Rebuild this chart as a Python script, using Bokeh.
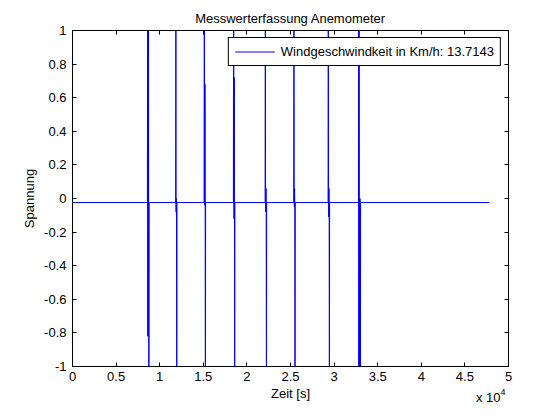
from bokeh.plotting import figure
from bokeh.models import Range1d, LinearAxis, FixedTicker, Label
from bokeh.embed import file_html
from bokeh.resources import INLINE

# ---------------- data ----------------
title_text = "Messwerterfassung Anemometer"
x_label = "Zeit [s]"
y_label = "Spannung"
legend_text = "Windgeschwindkeit in Km/h: 13.7143"

baseline_level = -0.024          # resting voltage
signal_start = 0
signal_end = 47800               # last sample time [s]
sample_dt = 25                   # sample spacing inside a pulse [s]

spike_times = [8590, 11830, 15090, 18450, 22090, 25370, 29310, 32790]
spike_1 = [1.5, -0.82, 1.5, -0.82, 1.5, -0.82, -1.5]
spike_2 = [1.5, -0.08, 0.0, -0.08, -1.5]
spike_3 = [1.5, 0.68, -0.04, 0.68, -0.04, -1.5]
spike_4 = [1.5, 0.72, -0.12, 0.72, -0.12, -1.5]
spike_5 = [1.5, 0.06, -0.08, 0.06, -0.08, -1.5]
spike_6 = [1.5, 0.06, -0.05, 0.06, -0.05, -1.5]
spike_7 = [1.5, 0.06, -0.11, 0.06, -0.11, -1.5]
spike_8 = [1.5, -1.5, 1.5, -1.5, 0.0, -0.13, 0.0, -0.13, -1.5]
spike_values = [spike_1, spike_2, spike_3, spike_4, spike_5, spike_6, spike_7, spike_8]

x_ticks = [0, 5000, 10000, 15000, 20000, 25000, 30000, 35000, 40000, 45000, 50000]
x_tick_labels = ["0", "0.5", "1", "1.5", "2", "2.5", "3", "3.5", "4", "4.5", "5"]
y_ticks = [-1, -0.8, -0.6, -0.4, -0.2, 0, 0.2, 0.4, 0.6, 0.8, 1]
y_tick_labels = ["-1", "-0.8", "-0.6", "-0.4", "-0.2", "0", "0.2", "0.4", "0.6", "0.8", "1"]
x_multiplier = "x 10"
x_exponent = "4"

# ------------- build signal -------------
xs = [signal_start]
ys = [baseline_level]
for t, vals in zip(spike_times, spike_values):
    xs.append(t)
    ys.append(baseline_level)
    for i, v in enumerate(vals):
        xs.append(t + (i + 1) * sample_dt)
        ys.append(v)
    xs.append(t + (len(vals) + 1) * sample_dt)
    ys.append(baseline_level)
xs.append(signal_end)
ys.append(baseline_level)

FONT = "Liberation Sans"
FS = "13px"

p = figure(width=544, height=404, output_backend="svg", toolbar_location=None, tools="",
           x_range=Range1d(0, 50000), y_range=Range1d(-1, 1),
           min_border_left=72, min_border_right=36, min_border_top=30, min_border_bottom=38,
           title=title_text, background_fill_color="white", border_fill_color="white")

p.title.align = "center"
p.title.text_font = FONT
p.title.text_font_size = FS
p.title.text_font_style = "normal"
p.title.text_color = "black"
p.title.standoff = 9

p.xgrid.visible = False
p.ygrid.visible = False
p.outline_line_color = "black"
p.outline_line_width = 1

line = p.line(xs, ys, line_color="#0000ff", line_width=1, legend_label=legend_text)

def style_axis(ax, ticks, labels, show_labels):
    ax.ticker = FixedTicker(ticks=ticks)
    ax.major_label_overrides = {t: (l if show_labels else "") for t, l in zip(ticks, labels)}
    ax.major_tick_in = 4
    ax.major_tick_out = 0
    ax.minor_tick_line_color = None
    ax.axis_line_color = "black"
    ax.major_tick_line_color = "black"
    ax.major_label_text_font = FONT
    ax.major_label_text_font_size = FS if show_labels else "0px"
    ax.major_label_text_color = "black"
    ax.axis_label_text_font = FONT
    ax.axis_label_text_font_size = FS
    ax.axis_label_text_font_style = "normal"
    ax.axis_label_text_color = "black"

xa = p.xaxis[0]
ya = p.yaxis[0]
style_axis(xa, x_ticks, x_tick_labels, True)
style_axis(ya, y_ticks, y_tick_labels, True)
xa.axis_label = x_label
ya.axis_label = y_label
xa.major_label_standoff = 5
xa.axis_label_standoff = 2
ya.major_label_standoff = 6
ya.axis_label_standoff = 4

top_ax = LinearAxis()
style_axis(top_ax, x_ticks, x_tick_labels, False)
top_ax.major_label_standoff = 0
p.add_layout(top_ax, "above")

right_ax = LinearAxis()
style_axis(right_ax, y_ticks, y_tick_labels, False)
right_ax.major_label_standoff = 0
p.add_layout(right_ax, "right")

# exponent note "x 10^4", placed in the right side panel so it is not clipped by the frame
p.add_layout(Label(x=-8, y=-31, x_units="screen", y_units="screen", text=x_multiplier,
                   text_align="right", text_baseline="alphabetic",
                   text_font=FONT, text_font_size=FS, text_color="black"), "right")
p.add_layout(Label(x=-33, y=-25, x_units="screen", y_units="screen", text=x_exponent,
                   text_align="left", text_baseline="alphabetic",
                   text_font=FONT, text_font_size="9px", text_color="black"), "right")

lg = p.legend[0]
lg.location = "top_right"
lg.margin = 7
lg.padding = 6
lg.spacing = 0
lg.glyph_width = 40
lg.glyph_height = 13
lg.label_height = 13
lg.label_standoff = 6
lg.label_text_font = FONT
lg.label_text_font_size = FS
lg.label_text_color = "black"
lg.border_line_color = "black"
lg.border_line_width = 1
lg.border_line_alpha = 1
lg.background_fill_color = "white"
lg.background_fill_alpha = 1

open("out.html", "w").write(file_html(p, INLINE))
